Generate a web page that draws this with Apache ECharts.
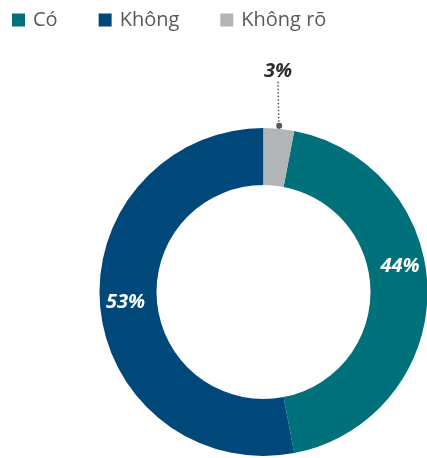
<!DOCTYPE html>
<html>
<head>
<meta charset="utf-8">
<script src="https://cdn.jsdelivr.net/npm/echarts@6/dist/echarts.min.js"></script>
<style>
  html, body { margin: 0; padding: 0; background: #fff; }
  #chart { width: 427px; height: 458px; }
</style>
</head>
<body>
<div id="chart"></div>
<script>
// Answer categories and their shares (%)
const categories = ['Có', 'Không', 'Không rõ'];
const shares = [44, 53, 3];
const colors = ['#00717a', '#00477a', '#b2b5b6'];

const FONT = '"Open Sans", "Noto Sans", sans-serif';
const center = [263.5, 292];

// Main ring starts so that the smallest slice sits just right of 12 o'clock
const total = shares.reduce((a, b) => a + b, 0);
const startAngle = 90 - (shares[2] / total) * 360;

const pieData = categories.map((name, i) => ({
  name,
  value: shares[i],
  itemStyle: { color: colors[i] },
  label: { show: i !== 2 }
}));

const chart = echarts.init(document.getElementById('chart'), null, { renderer: 'canvas' });
chart.setOption({
  animation: false,
  legend: {
    left: 12,
    top: 10,
    padding: 0,
    itemWidth: 13,
    itemHeight: 13,
    itemGap: 41,
    icon: 'rect',
    textStyle: { fontFamily: FONT, fontSize: 20, color: '#595959', padding: [0, 0, 0, 3] },
    data: categories.map((name, i) => ({ name, itemStyle: { color: colors[i] } }))
  },
  series: [
    {
      type: 'pie',
      center: center,
      radius: [107, 164],
      startAngle: startAngle,
      clockwise: true,
      avoidLabelOverlap: false,
      silent: true,
      data: pieData,
      label: {
        position: 'inside',
        formatter: '{c}%',
        fontFamily: FONT,
        fontSize: 20,
        fontWeight: 'bold',
        fontStyle: 'italic',
        color: '#ffffff'
      },
      labelLine: { show: false },
      labelLayout: function (p) {
        if (p.dataIndex === 0) return { dy: -26, dx: -2 };
        if (p.dataIndex === 1) return { dy: -3 };
        return {};
      }
    },
    {
      // small slice: label raised above the ring with a dotted leader
      type: 'pie',
      center: center,
      radius: [164, 164],
      startAngle: startAngle,
      clockwise: true,
      silent: true,
      avoidLabelOverlap: false,
      data: pieData.map((d, i) => ({
        name: d.name,
        value: d.value,
        itemStyle: { color: 'rgba(0,0,0,0)' },
        label: i === 2 ? {
          show: true,
          position: 'outside',
          formatter: '{c}%',
          fontFamily: FONT,
          fontSize: 20,
          fontWeight: 'bold',
          fontStyle: 'italic',
          color: '#2b2b2b'
        } : { show: false },
        labelLine: i === 2 ? {
          show: true,
          length: 20,
          length2: 0,
          lineStyle: { color: '#555', width: 1.5, type: [1.5, 2] }
        } : { show: false }
      })),
      labelLayout: function (p) {
        if (p.dataIndex === 2) {
          return { x: 278, y: 71, align: 'center', verticalAlign: 'middle' };
        }
        return {};
      }
    },
    {
      // anchor dot at the outer edge of the small slice
      type: 'pie',
      center: center,
      radius: [164, 164],
      startAngle: startAngle,
      clockwise: true,
      silent: true,
      avoidLabelOverlap: false,
      data: pieData.map((d, i) => ({
        name: d.name,
        value: d.value,
        itemStyle: { color: 'rgba(0,0,0,0)' },
        label: i === 2 ? {
          show: true,
          position: 'inside',
          formatter: '',
          backgroundColor: '#555a60',
          width: 6,
          height: 6,
          borderRadius: 3,
          padding: 0
        } : { show: false }
      }))
    }
  ]
});
</script>
</body>
</html>
